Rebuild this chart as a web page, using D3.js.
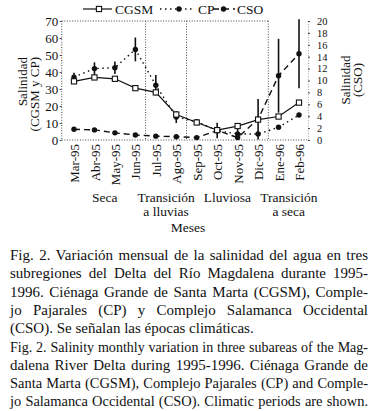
<!DOCTYPE html>
<html><head><meta charset="utf-8">
<script src="https://cdn.jsdelivr.net/npm/d3@7"></script>
<style>
html,body{margin:0;padding:0;background:#fff;}
svg{display:block;}
</style></head>
<body>
<svg id="c" width="377" height="411"></svg>
<script>
const months = ["Mar-95","Abr-95","May-95","Jun-95","Jul-95","Ago-95","Sep-95","Oct-95","Nov-95","Dic-95","Ene-96","Feb-96"];
const cgsm   = [34.5, 36.8, 36.0, 30.5, 28.0, 15.0, 10.3, 5.8, 8.2, 12.0, 13.8, 22.0];
const cp     = [37.0, 42.0, 42.5, 53.3, 32.2, 13.5, 10.8, 5.5, 3.6, 3.5, 7.5, 14.7];
const cpErr  = [2.5, 3.7, 3.7, 7.0, 6.0, 3.5, 0, 0, 3.0, 0, 0, 0];
const cso    = [1.8, 1.7, 1.2, 0.85, 0.65, 0.55, 0.4, 1.6, 0.4, 3.5, 10.8, 14.5];
const csoErr = [0, 0, 0, 0, 0, 0, 0, 1.3, 0, 3.4, 6.2, 5.8];
const leftTicks = [0,10,20,30,40,50,60,70];
const rightTicks = [0,2,4,6,8,10,12,14,16,18,20];
const seasons = [
  {lines:["Seca"], from:"Mar-95", to:"Jun-95"},
  {lines:["Transición","a lluvias"], from:"Jul-95", to:"Ago-95"},
  {lines:["Lluviosa"], from:"Sep-95", to:"Dic-95"},
  {lines:["Transición","a seca"], from:"Ene-96", to:"Feb-96"}
];
const captionLines = [
  "Fig. 2. Variación mensual de la salinidad del agua en tres",
  "subregiones del Delta del Río Magdalena durante 1995-",
  "1996. Ciénaga Grande de Santa Marta (CGSM), Comple-",
  "jo Pajarales (CP) y Complejo Salamanca Occidental",
  "(CSO). Se señalan las épocas climáticas.",
  "Fig. 2. Salinity monthly variation in three subareas of the Mag-",
  "dalena River Delta during 1995-1996. Ciénaga Grande de",
  "Santa Marta (CGSM), Complejo Pajarales (CP) and Comple-",
  "jo Salamanca Occidental (CSO). Climatic periods are shown."
];
const captionLeftAligned = [4];

const FONT = "'Liberation Serif', Tinos, 'Times New Roman', Times, 'DejaVu Serif', serif";
const svg = d3.select("#c").attr("font-family", FONT);
const plotTop = 21, plotBottom = 140;
const x = d3.scalePoint().domain(months).range([74, 299]);
const step = x.step();
const yL = d3.scaleLinear().domain([0,70]).range([plotBottom, plotTop]);
const yR = d3.scaleLinear().domain([0,20]).range([plotBottom, plotTop]);
const boxLeft = x(months[0]) - 0.6*step;
const rightAxisX = 308;
const dot = "1,1.6";
const T = (sel)=> sel.attr("font-family",FONT).attr("fill","#111");

const frame = svg.append("g").attr("stroke","#333").attr("stroke-width",0.9).attr("stroke-dasharray",dot).attr("fill","none");
frame.append("line").attr("x1",boxLeft).attr("x2",boxLeft).attr("y1",plotTop).attr("y2",plotBottom);
frame.append("line").attr("x1",boxLeft).attr("x2",rightAxisX).attr("y1",plotBottom).attr("y2",plotBottom);
const dividers = seasons.slice(1).map(s => x(s.from) - step/2);
const lastDiv = dividers[dividers.length-1];
frame.append("line").attr("x1",boxLeft).attr("x2",lastDiv).attr("y1",plotTop).attr("y2",plotTop);
dividers.forEach(d => frame.append("line").attr("x1",d).attr("x2",d).attr("y1",plotTop).attr("y2",plotBottom));

const gL = svg.append("g").attr("transform",`translate(${boxLeft},0)`)
  .call(d3.axisLeft(yL).tickValues(leftTicks).tickSize(2).tickPadding(1.5));
gL.attr("font-family",FONT);
gL.select(".domain").remove();
gL.selectAll(".tick line").attr("stroke","#444");
gL.selectAll(".tick text").attr("font-size",13).call(T);

const gR = svg.append("g").attr("transform",`translate(${rightAxisX},0)`)
  .call(d3.axisRight(yR).tickValues(rightTicks).tickSize(2).tickPadding(7));
gR.attr("font-family",FONT);
gR.select(".domain").attr("stroke","#777").attr("stroke-dasharray",dot).attr("stroke-width",0.7);
gR.selectAll(".tick line").attr("stroke","#444");
gR.selectAll(".tick text").attr("font-size",10.4).call(T);

svg.append("text").attr("transform","translate(27,57) rotate(-90)").attr("text-anchor","end").attr("font-size",13).call(T).text("Salinidad");
svg.append("text").attr("transform","translate(39,57) rotate(-90)").attr("text-anchor","end").attr("font-size",13).call(T).text("(CGSM y CP)");
svg.append("text").attr("transform","translate(350,80) rotate(-90)").attr("text-anchor","middle").attr("font-size",13).call(T).text("Salinidad");
svg.append("text").attr("transform","translate(362,80) rotate(-90)").attr("text-anchor","middle").attr("font-size",13).call(T).text("(CSO)");

svg.append("g").selectAll("text").data(months).join("text")
  .attr("transform",d=>`translate(${x(d)+0.5},144) rotate(-90)`)
  .attr("text-anchor","end").attr("dy","0.35em").attr("font-size",13).call(T).text(d=>d);

seasons.forEach(s => {
  const cx = (x(s.from)+x(s.to))/2;
  s.lines.forEach((l,i)=> svg.append("text").attr("x",cx).attr("y",202+i*13.5)
     .attr("text-anchor","middle").attr("font-size",13.5).call(T).text(l));
});
svg.append("text").attr("x",188).attr("y",232).attr("text-anchor","middle").attr("font-size",13.5).call(T).text("Meses");

const idx = d3.range(months.length);
function drawErr(vals, errs, y){
  svg.append("g").attr("stroke","#111").attr("stroke-width",1.6).selectAll("line")
   .data(idx.filter(i=>errs[i]>0)).join("line")
   .attr("x1",i=>x(months[i])).attr("x2",i=>x(months[i]))
   .attr("y1",i=>y(vals[i]-errs[i])).attr("y2",i=>y(vals[i]+errs[i]));
}
const lineGen = (vals,y)=> d3.line().x(i=>x(months[i])).y(i=>y(vals[i]))(idx);

drawErr(cso, csoErr, yR);
svg.append("path").attr("d",lineGen(cso,yR)).attr("fill","none").attr("stroke","#111").attr("stroke-width",1.4).attr("stroke-dasharray","6,4");
svg.append("g").selectAll("circle").data(idx).join("circle").attr("cx",i=>x(months[i])).attr("cy",i=>yR(cso[i])).attr("r",2.7).attr("fill","#111");

drawErr(cp, cpErr, yL);
svg.append("path").attr("d",lineGen(cp,yL)).attr("fill","none").attr("stroke","#111").attr("stroke-width",1.4).attr("stroke-dasharray","1.5,3.5");
svg.append("g").selectAll("circle").data(idx).join("circle").attr("cx",i=>x(months[i])).attr("cy",i=>yL(cp[i])).attr("r",2.7).attr("fill","#111");

svg.append("path").attr("d",lineGen(cgsm,yL)).attr("fill","none").attr("stroke","#111").attr("stroke-width",1.2);
svg.append("g").selectAll("rect").data(idx).join("rect").attr("x",i=>x(months[i])-2.6).attr("y",i=>yL(cgsm[i])-2.6)
  .attr("width",5.2).attr("height",5.2).attr("fill","#fff").attr("stroke","#111").attr("stroke-width",1.1);

const ly = 9;
const lg = svg.append("g");
lg.append("line").attr("x1",83).attr("x2",112).attr("y1",ly).attr("y2",ly).attr("stroke","#111").attr("stroke-width",1.2);
lg.append("rect").attr("x",96.4).attr("y",ly-2.6).attr("width",5.2).attr("height",5.2).attr("fill","#fff").attr("stroke","#111").attr("stroke-width",1.1);
lg.append("text").attr("x",115).attr("y",ly+4.5).attr("font-size",13.5).call(T).text("CGSM");
lg.append("line").attr("x1",160).attr("x2",195).attr("y1",ly).attr("y2",ly).attr("stroke","#111").attr("stroke-width",1.4).attr("stroke-dasharray","1.5,3.5");
lg.append("circle").attr("cx",179).attr("cy",ly).attr("r",2.7).attr("fill","#111");
lg.append("text").attr("x",198).attr("y",ly+4.5).attr("font-size",13.5).call(T).text("CP");
lg.append("line").attr("x1",213).attr("x2",235).attr("y1",ly).attr("y2",ly).attr("stroke","#111").attr("stroke-width",1.4).attr("stroke-dasharray","6,4");
lg.append("circle").attr("cx",223.5).attr("cy",ly).attr("r",2.7).attr("fill","#111");
lg.append("text").attr("x",237).attr("y",ly+4.5).attr("font-size",13.5).call(T).text("CSO");

const capX0 = 10, capX1 = 368, capY0 = 260, capDy = 18.3, capFs = 15;
captionLines.forEach((l,i)=>{
  const t = svg.append("text").attr("x",capX0).attr("y",capY0+i*capDy).attr("font-size",capFs).call(T).text(l);
  if (captionLeftAligned.includes(i)) return;
  const target = capX1-capX0;
  let w = t.node().getComputedTextLength();
  if (w > target) {
    t.attr("font-size", capFs*target/w*0.99);
    w = t.node().getComputedTextLength();
  }
  const spaces = (l.match(/ /g)||[]).length;
  if (spaces>0) t.attr("word-spacing",(target-w)/spaces);
});
</script>
</body></html>
